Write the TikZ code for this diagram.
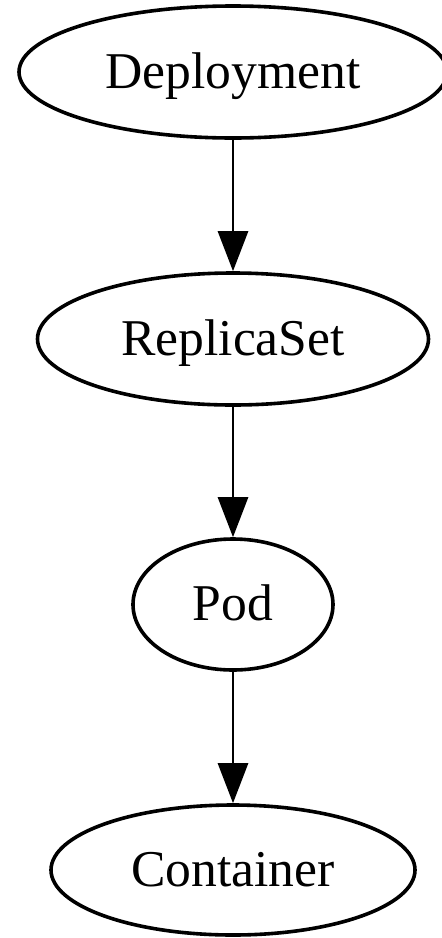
\documentclass[tikz,border=0pt]{standalone}
\usepackage{fontspec}
\setmainfont{Liberation Serif}
\usetikzlibrary{shapes.geometric,arrows.meta}

\begin{document}
\begin{tikzpicture}[x=.5pt,y=-.5pt,
  kind/.style={ellipse,draw,line width=1.8pt,inner sep=0pt,
    text height=16pt,text depth=0pt,
    font=\fontsize{25.8}{30}\selectfont},
  link/.style={line width=1.4pt,-{Triangle[length=20pt,width=15pt]}}]
\useasboundingbox (0,0) rectangle (442,938);
%
\node[kind,minimum width=214pt,minimum height=66pt] (deploy) at (233,72) {Deployment};
\node[kind,minimum width=195.5pt,minimum height=66pt] (rset) at (233,339) {ReplicaSet};
\node[kind,minimum width=100pt,minimum height=65.5pt] (pod) at (233,604.5) {Pod};
\node[kind,minimum width=182pt,minimum height=65pt] (ctr) at (233,870) {Container};
%
\draw[link] (deploy) -- (rset);
\draw[link] (rset) -- (pod);
\draw[link] (pod) -- (ctr);
\end{tikzpicture}
\end{document}
